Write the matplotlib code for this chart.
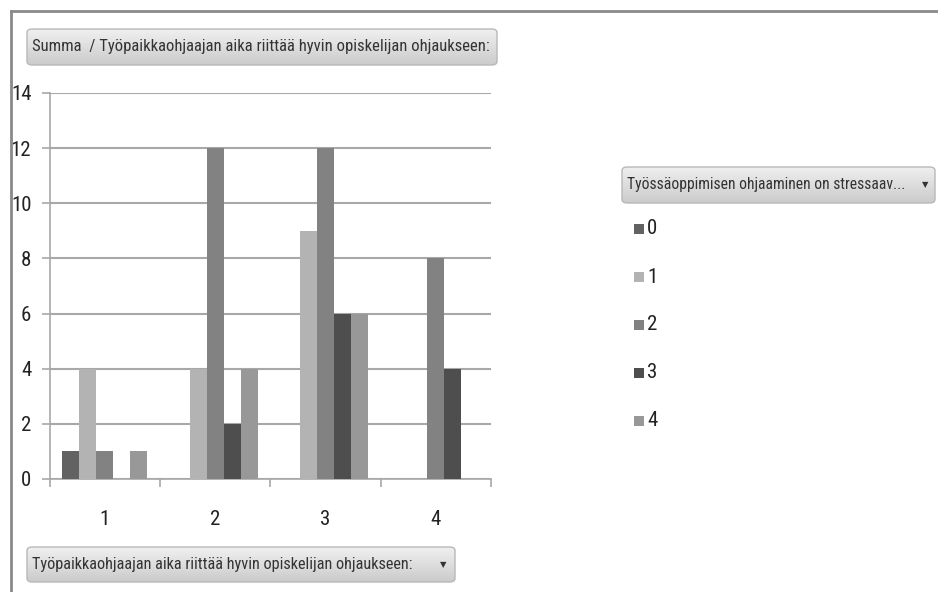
import numpy as np
import matplotlib
matplotlib.use("Agg")
import matplotlib.pyplot as plt
from matplotlib import font_manager
from matplotlib.colors import LinearSegmentedColormap
from matplotlib.patches import FancyBboxPatch, Rectangle
from matplotlib.lines import Line2D

# data
categories = ["1", "2", "3", "4"]
series_names = ["0", "1", "2", "3", "4"]
s0 = [1, 0, 0, 0]
s1 = [4, 4, 9, 0]
s2 = [1, 12, 12, 8]
s3 = [0, 2, 6, 4]
s4 = [1, 4, 6, 0]
series = [s0, s1, s2, s3, s4]
colors = ["#626262", "#b3b3b3", "#828282", "#4e4e4e", "#989898"]
title_text = "Summa  / Työpaikkaohjaajan aika riittää hyvin opiskelijan ohjaukseen:"
legend_title = "Työssäoppimisen ohjaaminen on stressaav..."
axis_button = "Työpaikkaohjaajan aika riittää hyvin opiskelijan ohjaukseen:"

# look for a narrow face, the reference uses a condensed UI font
font, stretch = "DejaVu Sans", "normal"
for f in font_manager.fontManager.ttflist:
    if f.name in ("Liberation Sans Narrow", "DejaVu Sans Condensed", "Roboto Condensed",
                  "Open Sans Condensed"):
        font, stretch = f.name, "normal"
        break
    if f.name == "DejaVu Sans" and f.stretch == "condensed" and f.style == "normal":
        font, stretch = "DejaVu Sans", "condensed"
plt.rcParams["font.family"] = [font, "DejaVu Sans"]
plt.rcParams["font.stretch"] = stretch

W, H = 938, 592
fig = plt.figure(figsize=(W / 100, H / 100), dpi=100)
renderer = fig.canvas.get_renderer()


def fx(px):
    return px / W


def fy(py):
    return 1 - py / H


def fit(txt, width_px, max_size):
    txt.set_fontsize(max_size)
    w = txt.get_window_extent(renderer).width
    if w > width_px:
        txt.set_fontsize(max_size * width_px / w)


# outer frame (left and top edges)
fig.add_artist(Line2D([fx(11), fx(11)], [0, fy(11)], color="#8a8a8a", lw=2))
fig.add_artist(Line2D([fx(11), 1], [fy(11), fy(11)], color="#8a8a8a", lw=2))


def button(x0, y0, x1, y1, text, text_w, arrow=None):
    box = FancyBboxPatch((fx(x0), fy(y1)), fx(x1 - x0), fy(y0) - fy(y1),
                         boxstyle="round,pad=0,rounding_size=0.006",
                         transform=fig.transFigure, facecolor="none",
                         edgecolor="#b8b8b8", lw=1, zorder=5)
    gax = fig.add_axes([fx(x0), fy(y1), fx(x1 - x0), fy(y0) - fy(y1)])
    gax.axis("off")
    gax.set_zorder(3)
    grad = np.linspace(0, 1, 64).reshape(-1, 1)
    im = gax.imshow(grad, aspect="auto", extent=(0, 1, 0, 1),
                    cmap=LinearSegmentedColormap.from_list("g", ["#f0f0f0", "#cbcbcb"]))
    im.set_clip_path(box)
    fig.add_artist(box)
    t = fig.text(fx(x0 + 5), fy((y0 + y1) / 2), text, ha="left", va="center",
                 color="#333333", zorder=6)
    fit(t, text_w, 15)
    if arrow is not None:
        fig.text(fx(arrow), fy((y0 + y1) / 2), "▼", ha="center", va="center",
                 fontsize=6, color="#333333", family="DejaVu Sans", zorder=6)


button(27, 29, 497, 65, title_text, 458)
button(27, 547, 455, 582, axis_button, 382, arrow=443)
button(622, 167, 935, 203, legend_title, 280, arrow=925)

# main chart
left, right, top, bottom = 49.5, 491, 93, 479
ax = fig.add_axes([fx(left), fy(bottom), fx(right - left), fy(top) - fy(bottom)])
x = np.arange(len(categories))
bw = 0.154
for i, (vals, c) in enumerate(zip(series, colors)):
    ax.bar(x + (i - 2) * bw, vals, width=bw, color=c, zorder=3)

ax.set_xlim(-0.5, len(categories) - 0.5)
ax.set_ylim(0, 14)
ax.set_yticks(np.arange(0, 15, 2))
ax.yaxis.grid(True, color="#a8a8a8", lw=1.5, zorder=0)
ax.set_xticks(x)
ax.set_xticklabels(categories)
ax.set_xticks(np.arange(-0.5, len(categories)), minor=True)
ax.tick_params(axis="x", which="major", length=0, labelsize=15, pad=22, labelcolor="#222222")
ax.tick_params(axis="x", which="minor", length=6, color="#a8a8a8", width=1.2)
ax.tick_params(axis="y", length=6, color="#a8a8a8", width=1.2, labelsize=15,
               pad=7, labelcolor="#222222")
for sp in ["top", "right"]:
    ax.spines[sp].set_visible(False)
for sp in ["left", "bottom"]:
    ax.spines[sp].set_color("#a8a8a8")
    ax.spines[sp].set_linewidth(1.2)

# legend entries
for i, (name, c) in enumerate(zip(series_names, colors)):
    yc = 229 + i * 48
    fig.add_artist(Rectangle((fx(634), fy(yc + 5)), fx(10), fy(yc - 5) - fy(yc + 5),
                             transform=fig.transFigure, facecolor=c, edgecolor="none"))
    fig.text(fx(647), fy(yc), name, ha="left", va="center", fontsize=15, color="#222222")

fig.savefig("out.png", dpi=100)
